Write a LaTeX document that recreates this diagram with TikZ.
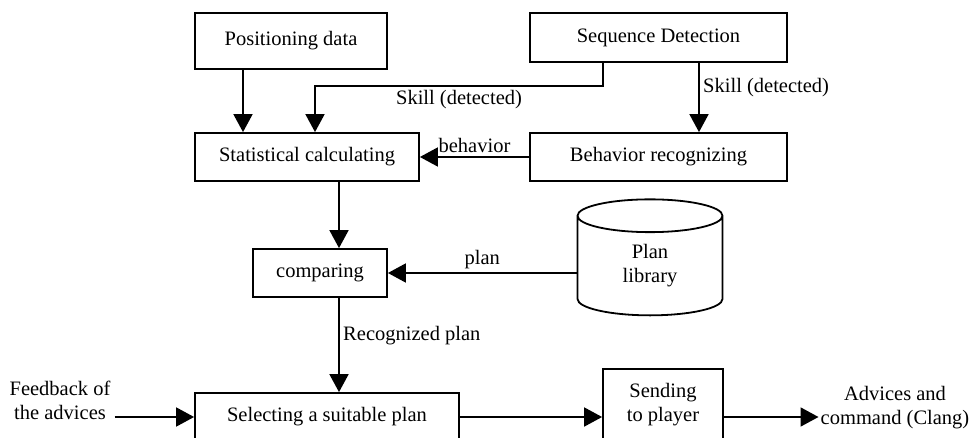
\documentclass[tikz,border=0pt]{standalone}
\usepackage{fontspec}
\setmainfont{Liberation Serif}
\usetikzlibrary{arrows.meta,shapes.geometric}

\begin{document}
\begin{tikzpicture}[x=1pt,y=-1pt,
    font=\fontsize{20.5}{24}\selectfont,
    box/.style={draw,line width=1.8pt,inner sep=0pt,align=center},
    arr/.style={line width=1.8pt,-{Triangle[length=18pt,width=19pt]}}]
    \useasboundingbox (0,0) rectangle (979,438);
    \clip (0,0) rectangle (979,438);
    % boxes
    \node[box,minimum width=192pt,minimum height=56pt] (pos) at (291,41) {Positioning data};
    \node[box,minimum width=257pt,minimum height=49pt] (seq) at (658.5,37.5) {Sequence Detection};
    \node[box,minimum width=224pt,minimum height=48pt] (stat) at (307,157) {Statistical calculating};
    \node[box,minimum width=257pt,minimum height=48pt] (beh) at (658.5,157) {Behavior recognizing};
    \node[box,minimum width=134pt,minimum height=48pt] (cmp) at (320,273) {comparing};
    \node[box,cylinder,shape border rotate=90,aspect=0.6,minimum width=145pt,minimum height=116pt] (lib) at (650,266) {Plan\\library};
    \node[box,minimum width=264pt,minimum height=48pt] (sel) at (327,417) {Selecting a suitable plan};
    \node[box,minimum width=120pt,minimum height=72pt] (send) at (663,405) {Sending\\to player};
    \node[align=center,inner sep=4pt] (fb) at (60,400) {Feedback of\\the advices};
    \node[align=center,inner sep=2pt] (adv) at (895,408) {Advices and\\command (Clang)};
    % arrows
    \draw[arr] ([xshift=-48pt]pos.south) -- ([xshift=-48pt]pos.south |- stat.north);
    \draw[arr] ([xshift=-55.5pt]seq.south) -- ++(0,23) -| ([xshift=8pt]stat.north)
        node[pos=0.25,below]{Skill (detected)};
    \draw[arr] ([xshift=40.5pt]seq.south) -- ([xshift=40.5pt]beh.north)
        node[pos=0.35,right]{Skill (detected)};
    \draw[arr] (beh.west) -- (stat.east)node[midway,above]{behavior};
    \draw[arr] ([xshift=32pt]stat.south) -- ([xshift=32pt]stat.south |- cmp.north);
    \draw[arr] (lib.west |- cmp.east) -- (cmp.east)node[midway,above]{plan};
    \draw[arr] ([xshift=19pt]cmp.south) -- ([xshift=19pt]cmp.south |- sel.north)
        node[pos=0.4,right]{Recognized plan};
    \draw[arr] (fb.east |- sel.west) -- (sel.west);
    \draw[arr] (sel.east) -- (sel.east -| send.west);
    \draw[arr] (send.east |- sel.east) -- (adv.west |- sel.east);
\end{tikzpicture}
\end{document}
